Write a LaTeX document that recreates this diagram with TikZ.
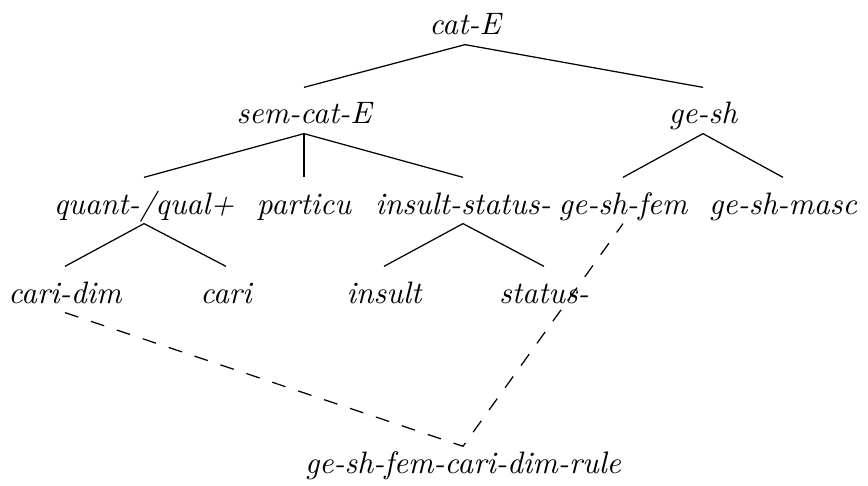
\documentclass[tikz,border=0pt]{standalone}
\begin{document}
\begin{tikzpicture}[
  x=0.322pt, y=-0.322pt,
  typ/.style={inner sep=0pt, anchor=base, font=\itshape,
              text height=11.6pt, text depth=2.9pt},
  rulebox/.style={inner sep=0pt, anchor=base, font=\itshape,
              text height=8.4pt, text depth=2.9pt},
  edge/.style={line width=0.4pt},
  link/.style={line width=0.4pt, dash pattern=on 4.5pt off 4.3pt}
]
\useasboundingbox (0,0) rectangle (868,486);

% type hierarchy nodes (placed on their baselines)
\node[typ] (catE)    at (465,35)  {cat-E};
\node[typ] (semcatE) at (304,124) {sem-cat-E};
\node[typ] (gesh)    at (703,124) {ge-sh};
\node[typ] (quant)   at (144,214) {quant-/qual+};
\node[typ] (particu) at (304,214) {particu};
\node[typ] (inst)    at (463,214) {insult-status-};
\node[typ] (fem)     at (623,214) {ge-sh-fem};
\node[typ] (masc)    at (783,214) {ge-sh-masc};
\node[typ] (caridim) at (65,303)  {cari-dim};
\node[typ] (cari)    at (226,303) {cari};
\node[typ] (insult)  at (384,303) {insult};
\node[typ] (status)  at (544,303) {status-};
\node[rulebox] (rule) at (463,473) {ge-sh-fem-cari-dim-rule};

% subtype links
\draw[edge] (catE.south) -- (semcatE.north);
\draw[edge] (catE.south) -- (gesh.north);
\draw[edge] (semcatE.south) -- (quant.north);
\draw[edge] (semcatE.south) -- (particu.north);
\draw[edge] (semcatE.south) -- (inst.north);
\draw[edge] (gesh.south) -- (fem.north);
\draw[edge] (gesh.south) -- (masc.north);
\draw[edge] (quant.south) -- (caridim.north);
\draw[edge] (quant.south) -- (cari.north);
\draw[edge] (inst.south) -- (insult.north);
\draw[edge] (inst.south) -- (status.north);

% multiple inheritance of the rule type
\draw[link] (caridim.south) -- (rule.north) -- (fem.south);
\end{tikzpicture}
\end{document}
